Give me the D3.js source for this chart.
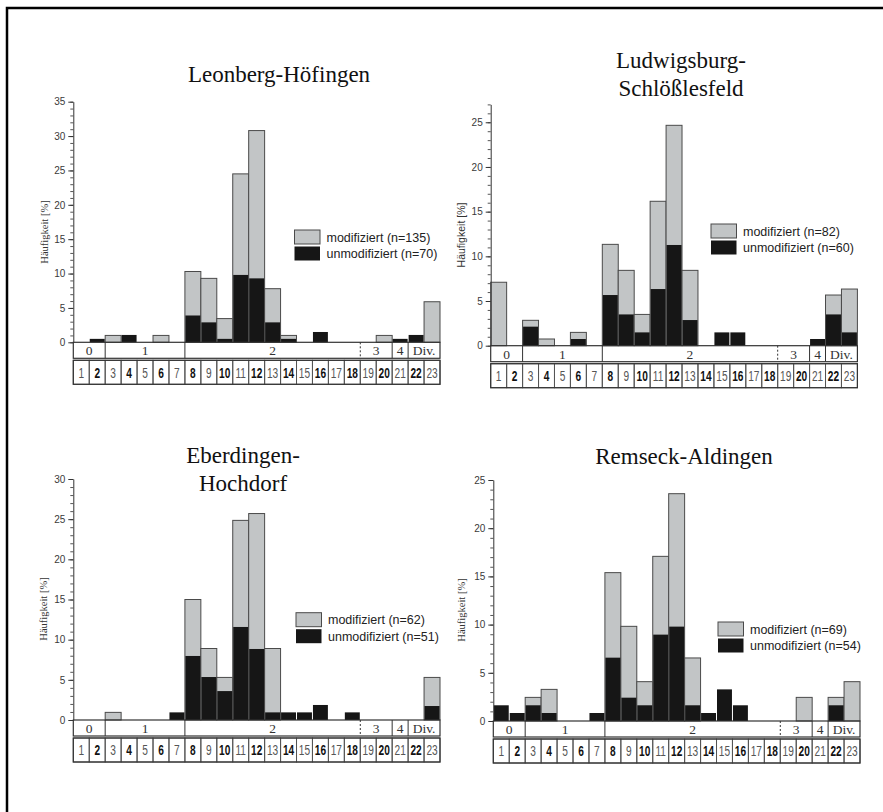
<!DOCTYPE html>
<html><head><meta charset="utf-8">
<script src="https://cdn.jsdelivr.net/npm/d3@7"></script>
<style>body{margin:0;background:#fff}svg{display:block}</style>
</head><body>
<svg id="c" width="883" height="812"></svg>
<script>
// ---- data ----
const categories = ["1","2","3","4","5","6","7","8","9","10","11","12","13","14","15","16","17","18","19","20","21","22","23"];
const groupLabels = ["0","1","2","3","4","Div."];
const groupEnds = [2,7,18,20,21,23];          // last category of each group
const seriesNames = ["modifiziert","unmodifiziert"];
const yLabel = "Häufigkeit [%]";

const titles = [["Leonberg-Höfingen"],["Ludwigsburg-","Schlößlesfeld"],["Eberdingen-","Hochdorf"],["Remseck-Aldingen"]];
const nMod   = [135, 82, 62, 69];
const nUnmod = [70, 60, 51, 54];
const yMax   = [35, 27, 30, 25];
const yTicks = [[0,5,10,15,20,25,30,35],[0,5,10,15,20,25],[0,5,10,15,20,25,30],[0,5,10,15,20,25]];

// total height (top of grey) and unmodified part (black) per category
const leonTotal = [0,0.5,1.0,1.07,0,1.0,0,10.3,9.3,3.45,24.5,30.8,7.8,1.0,0,1.5,0,0,0,1.0,0.5,1.07,5.9];
const leonUnmod = [0,0.5,0,1.07,0,0,0,3.9,2.9,0.5,9.8,9.3,2.9,0.5,0,1.5,0,0,0,0,0.5,1.07,0];
const ludwTotal = [7.1,0,2.84,0.75,0,1.49,0,11.34,8.43,3.5,16.16,24.66,8.43,0,1.49,1.49,0,0,0,0,0.75,5.67,6.34];
const ludwUnmod = [0,0,2.13,0,0,0.75,0,5.67,3.5,1.49,6.34,11.27,2.87,0,1.49,1.49,0,0,0,0,0.75,3.5,1.49];
const eberTotal = [0,0,0.95,0,0,0,0.95,15.0,8.9,5.3,24.85,25.7,8.9,0.95,0.95,1.87,0,0.95,0,0,0,0,5.3];
const eberUnmod = [0,0,0,0,0,0,0.95,7.97,5.35,3.6,11.58,8.84,0.95,0.95,0.95,1.87,0,0.95,0,0,0,0,1.74];
const remsTotal = [1.63,0.83,2.45,3.28,0,0,0.83,15.39,9.82,4.08,17.08,23.58,6.54,0.83,3.28,1.63,0,0,0,2.45,0,2.45,4.08];
const remsUnmod = [1.63,0.83,1.63,0.83,0,0,0.83,6.57,2.42,1.63,8.96,9.79,1.63,0.83,3.28,1.63,0,0,0,0,0,1.63,0];
const totals = [leonTotal, ludwTotal, eberTotal, remsTotal];
const unmods = [leonUnmod, ludwUnmod, eberUnmod, remsUnmod];

// ---- layout ----
const panels = [
  {x0:73.3, y0:342.3, top:101.7, titleX:279, titleY:[81.7], yl:{x:44, y:232, serif:true}, leg:{x:294.5, y:230}},
  {x0:490.7, y0:345.7, top:104.4, titleX:681, titleY:[68, 96], yl:{x:461, y:235, serif:false}, leg:{x:711, y:224}},
  {x0:73.3, y0:720, top:479, titleX:243, titleY:[463, 491], yl:{x:43, y:609, serif:true}, leg:{x:296, y:612.7}},
  {x0:493.3, y0:721, top:480, titleX:684, titleY:[464], yl:{x:461.5, y:610, serif:true}, leg:{x:718, y:622}}
];
const W = 366.7;
const GREY = "#c2c5c6", BLACK = "#161616", EDGE = "#4a4a4a";
const SERIF = "'Liberation Serif','Times New Roman',serif";
const SANS = "'Liberation Sans',Arial,sans-serif";

const svg = d3.select("#c");
// outer frame
svg.append("path").attr("d","M7,812 V8 H883").attr("fill","none").attr("stroke","#000").attr("stroke-width",2.5);

panels.forEach((p, i) => {
  const g = svg.append("g");
  const x = d3.scaleBand().domain(categories).range([p.x0, p.x0 + W]).padding(0);
  const y = d3.scaleLinear().domain([0, yMax[i]]).range([p.y0, p.top]);

  // title
  titles[i].forEach((t, k) => {
    g.append("text").attr("x", p.titleX).attr("y", p.titleY[k]).attr("text-anchor","middle")
      .attr("font-family", SERIF).attr("font-size", 23).attr("fill","#111").text(t);
  });

  // bars
  const data = categories.map((c, j) => ({c, tot: totals[i][j], un: unmods[i][j]}));
  g.selectAll("rect.m").data(data.filter(d => d.tot > d.un)).join("rect")
    .attr("x", d => x(d.c)).attr("width", x.bandwidth())
    .attr("y", d => y(d.tot)).attr("height", d => y(0) - y(d.tot))
    .attr("fill", GREY).attr("stroke", EDGE).attr("stroke-width", 1);
  g.selectAll("rect.u").data(data.filter(d => d.un > 0)).join("rect")
    .attr("x", d => x(d.c) + 0.5).attr("width", x.bandwidth() - 1)
    .attr("y", d => y(d.un)).attr("height", d => y(0) - y(d.un))
    .attr("fill", BLACK);

  // y axis
  const minor = d3.range(0, yMax[i] + 0.001, 1);
  const ax2 = g.append("g").attr("transform", `translate(${p.x0},0)`)
    .call(d3.axisLeft(y).tickValues(minor).tickSize(3).tickFormat(""));
  ax2.select(".domain").remove();
  ax2.selectAll("line").attr("stroke","#555");
  const ax = g.append("g").attr("transform", `translate(${p.x0},0)`)
    .call(d3.axisLeft(y).tickValues(yTicks[i]).tickSize(5).tickSizeOuter(0).tickPadding(3));
  ax.select(".domain").attr("stroke","#333");
  ax.selectAll("line").attr("stroke","#333");
  ax.selectAll("text").attr("font-family", SANS).attr("font-size", 10).attr("fill","#3a3a3a");

  // y label
  g.append("text").attr("transform", `translate(${p.yl.x},${p.yl.y}) rotate(-90)`)
    .attr("text-anchor","middle").attr("dy","0.35em")
    .attr("font-family", p.yl.serif ? SERIF : SANS).attr("font-size", 10.5).attr("fill","#333").text(yLabel);

  // table: group row
  const gh = 16, gap = 2, nh = 24;
  const t0 = p.y0;
  g.append("rect").attr("x", p.x0).attr("y", t0).attr("width", W).attr("height", gh)
    .attr("fill","none").attr("stroke","#333").attr("stroke-width",1.2);
  let start = 0;
  groupEnds.forEach((e, k) => {
    const x1 = x(categories[start]), x2 = x(categories[e - 1]) + x.bandwidth();
    g.append("text").attr("x", (x1 + x2) / 2).attr("y", t0 + gh / 2).attr("dy","0.36em")
      .attr("text-anchor","middle").attr("font-family", SERIF).attr("font-size", 13.5).attr("fill","#333")
      .text(groupLabels[k]);
    if (k < groupEnds.length - 1) {
      g.append("line").attr("x1", x2).attr("x2", x2).attr("y1", t0).attr("y2", t0 + gh)
        .attr("stroke","#333").attr("stroke-width", 1)
        .attr("stroke-dasharray", groupLabels[k] === "2" ? "2,2" : null);
    }
    start = e;
  });
  // number row
  const n0 = t0 + gh + gap;
  g.selectAll("rect.cell").data(categories).join("rect")
    .attr("x", d => x(d)).attr("y", n0).attr("width", x.bandwidth()).attr("height", nh)
    .attr("fill","none").attr("stroke","#555").attr("stroke-width",1);
  g.append("rect").attr("x", p.x0).attr("y", n0).attr("width", W).attr("height", nh)
    .attr("fill","none").attr("stroke","#333").attr("stroke-width",1.2);
  g.selectAll("text.num").data(categories).join("text")
    .attr("transform", d => `translate(${x(d) + x.bandwidth() / 2},${n0 + nh / 2}) scale(0.7,1)`)
    .attr("dy","0.36em")
    .attr("text-anchor","middle").attr("font-family", SANS).attr("font-size", 14.5)
    .attr("font-weight", d => (+d) % 2 === 0 ? "bold" : "normal")
    .attr("fill", d => (+d) % 2 === 0 ? "#111" : "#555")
    .text(d => d);

  // legend
  const L = p.leg;
  g.append("rect").attr("x", L.x).attr("y", L.y).attr("width", 25.5).attr("height", 14)
    .attr("fill", GREY).attr("stroke", EDGE).attr("stroke-width", 1);
  g.append("rect").attr("x", L.x).attr("y", L.y + 16.5).attr("width", 25.5).attr("height", 14)
    .attr("fill", BLACK);
  g.append("text").attr("x", L.x + 32).attr("y", L.y + 11.5).attr("font-family", SANS).attr("font-size", 12.5)
    .attr("fill","#222").text(`${seriesNames[0]} (n=${nMod[i]})`);
  g.append("text").attr("x", L.x + 32).attr("y", L.y + 28).attr("font-family", SANS).attr("font-size", 12.5)
    .attr("fill","#222").text(`${seriesNames[1]} (n=${nUnmod[i]})`);
});
</script>
</body></html>
